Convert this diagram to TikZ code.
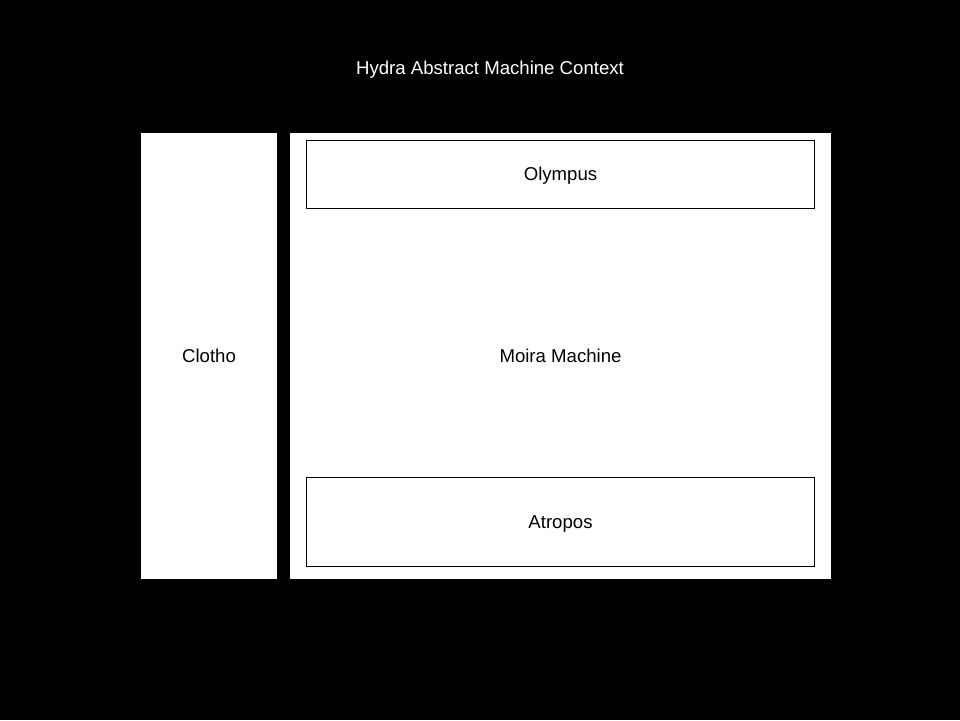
\documentclass[tikz,border=0pt]{standalone}
\usepackage{fontspec}
\setmainfont{Liberation Sans}
\usepackage{xcolor}
\usepackage{tikz}
\usetikzlibrary{positioning}

\tikzset{
  panel/.style={fill=white,draw=none,inner sep=0pt,text depth=0pt,font=\fontsize{18.6}{22}\selectfont},
  part/.style={fill=white,draw=black,line width=0.8pt,inner sep=0pt,text depth=0pt,font=\fontsize{18.6}{22}\selectfont}
}

\begin{document}
\begin{tikzpicture}[x=1pt,y=-1pt]
  \fill[black] (0,0) rectangle (960,720);
  \useasboundingbox (0,0) rectangle (960,720);
  \node[text=white,text depth=0pt,font=\fontsize{18.6}{22}\selectfont] (title) at (490,68) {Hydra Abstract Machine Context};
  \node[panel,minimum width=136pt,minimum height=446pt] (clotho) at (209,356) {Clotho};
  \node[panel,minimum width=541pt,minimum height=446pt] (moira) at (560.5,356) {Moira Machine};
  \node[part,minimum width=508pt,minimum height=68pt] (olympus) at (560.5,174) {Olympus};
  \node[part,minimum width=508pt,minimum height=89pt] (atropos) at (560.5,522) {Atropos};
\end{tikzpicture}
\end{document}
